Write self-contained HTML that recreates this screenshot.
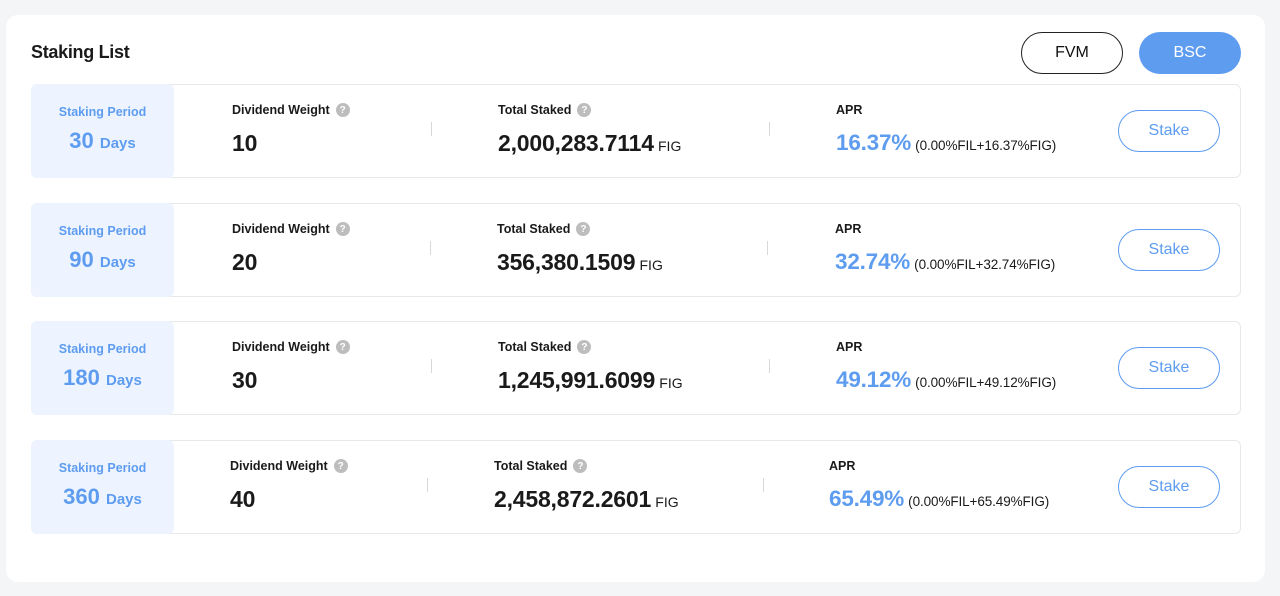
<!DOCTYPE html>
<html><head><meta charset="utf-8">
<style>
*{box-sizing:border-box;margin:0;padding:0}
body{width:1280px;height:596px;background:#f4f5f7;font-family:"Liberation Sans",sans-serif;color:#1a1a1a;position:relative;overflow:hidden}
.card{position:absolute;left:6px;top:15px;width:1259px;height:567px;background:#fff;border-radius:12px}
.title{position:absolute;left:31px;top:42px;font-size:18px;font-weight:bold;letter-spacing:-0.3px}
.tab{position:absolute;top:32px;height:42px;border-radius:21px;font-size:16px;display:flex;align-items:center;justify-content:center}
.fvm{left:1021px;width:102px;border:1px solid #222;background:#fff;color:#111}
.bsc{left:1139px;width:102px;background:#5e9cf0;color:#fff}
.row{position:absolute;left:31px;width:1210px;height:94px;border:1px solid #e6e8eb;border-radius:6px}
.period{position:absolute;left:-1px;top:-1px;width:143px;height:94px;background:#edf4ff;border-radius:6px;text-align:center;color:#5e9cf0;font-weight:bold}
.period .l{font-size:12.5px;margin-top:21px}
.period .v{font-size:22px;margin-top:9px}
.period .v span{font-size:15px}
.col{position:absolute;top:17px}
.lab{font-size:12.5px;font-weight:bold;display:flex;align-items:center;gap:6px;height:16px}
.q{width:14px;height:14px;border-radius:50%;background:#bdbdbd;color:#fff;font-size:10px;display:inline-flex;align-items:center;justify-content:center}
.val{font-size:23px;font-weight:bold;margin-top:12px;white-space:nowrap;letter-spacing:-0.2px}
.val small{font-size:14px;font-weight:normal;margin-left:-2px;letter-spacing:0}
.apr{color:#5e9cf0;font-size:22.5px}
.apr small{color:#1a1a1a;font-size:13.5px;letter-spacing:-0.1px}
.div{position:absolute;top:37px;width:1px;height:14px;background:#d8d8d8}
.stake{position:absolute;left:1086px;top:25px;width:102px;height:42px;border:1px solid #5e9cf0;border-radius:21px;color:#5e9cf0;font-size:16px;display:flex;align-items:center;justify-content:center;background:#fff}
</style></head><body>
<div class="card"></div>
<div class="title">Staking List</div>
<div class="tab fvm">FVM</div>
<div class="tab bsc">BSC</div>

<div class="row" style="top:84px">
 <div class="period"><div class="l">Staking Period</div><div class="v">30 <span>Days</span></div></div>
 <div class="col" style="left:200px"><div class="lab">Dividend Weight <span class="q">?</span></div><div class="val">10</div></div>
 <div class="div" style="left:399px"></div>
 <div class="col" style="left:466px"><div class="lab">Total Staked <span class="q">?</span></div><div class="val">2,000,283.7114 <small>FIG</small></div></div>
 <div class="div" style="left:737px"></div>
 <div class="col" style="left:804px"><div class="lab">APR</div><div class="val apr">16.37% <small>(0.00%FIL+16.37%FIG)</small></div></div>
 <div class="stake">Stake</div>
</div>

<div class="row" style="top:203px">
 <div class="period"><div class="l">Staking Period</div><div class="v">90 <span>Days</span></div></div>
 <div class="col" style="left:200px"><div class="lab">Dividend Weight <span class="q">?</span></div><div class="val">20</div></div>
 <div class="div" style="left:398px"></div>
 <div class="col" style="left:465px"><div class="lab">Total Staked <span class="q">?</span></div><div class="val">356,380.1509 <small>FIG</small></div></div>
 <div class="div" style="left:735px"></div>
 <div class="col" style="left:803px"><div class="lab">APR</div><div class="val apr">32.74% <small>(0.00%FIL+32.74%FIG)</small></div></div>
 <div class="stake">Stake</div>
</div>

<div class="row" style="top:321px">
 <div class="period"><div class="l">Staking Period</div><div class="v">180 <span>Days</span></div></div>
 <div class="col" style="left:200px"><div class="lab">Dividend Weight <span class="q">?</span></div><div class="val">30</div></div>
 <div class="div" style="left:399px"></div>
 <div class="col" style="left:466px"><div class="lab">Total Staked <span class="q">?</span></div><div class="val">1,245,991.6099 <small>FIG</small></div></div>
 <div class="div" style="left:737px"></div>
 <div class="col" style="left:804px"><div class="lab">APR</div><div class="val apr">49.12% <small>(0.00%FIL+49.12%FIG)</small></div></div>
 <div class="stake">Stake</div>
</div>

<div class="row" style="top:440px">
 <div class="period"><div class="l">Staking Period</div><div class="v">360 <span>Days</span></div></div>
 <div class="col" style="left:198px"><div class="lab">Dividend Weight <span class="q">?</span></div><div class="val">40</div></div>
 <div class="div" style="left:395px"></div>
 <div class="col" style="left:462px"><div class="lab">Total Staked <span class="q">?</span></div><div class="val">2,458,872.2601 <small>FIG</small></div></div>
 <div class="div" style="left:731px"></div>
 <div class="col" style="left:797px"><div class="lab">APR</div><div class="val apr">65.49% <small>(0.00%FIL+65.49%FIG)</small></div></div>
 <div class="stake">Stake</div>
</div>
</body></html>
